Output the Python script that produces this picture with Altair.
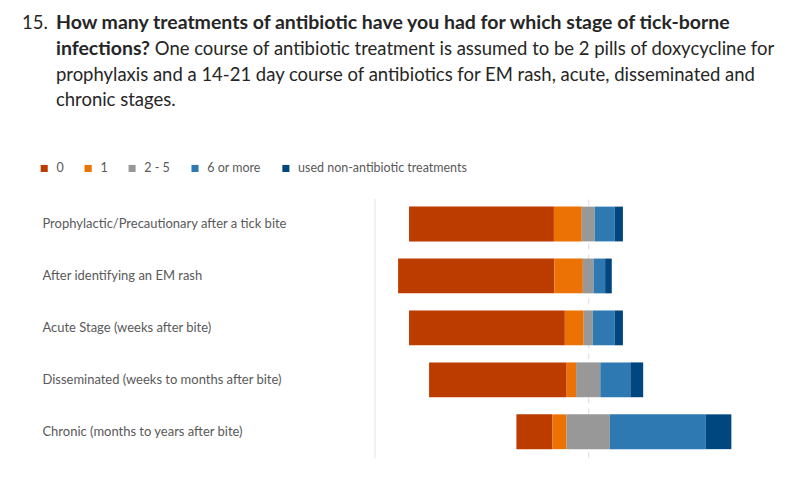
import altair as alt
import pandas as pd

stages = [
    "Prophylactic/Precautionary after a tick bite",
    "After identifying an EM rash",
    "Acute Stage (weeks after bite)",
    "Disseminated (weeks to months after bite)",
    "Chronic (months to years after bite)",
]
categories = ["0", "1", "2 - 5", "6 or more", "used non-antibiotic treatments"]
colors = ["#BC3C00", "#EC7206", "#989898", "#2E79B2", "#00467F"]

p0 = [67.6, 72.9, 72.7, 64.2, 16.7]
p1 = [13.0, 13.3, 8.8, 4.4, 6.7]
p25 = [6.0, 5.0, 4.2, 11.3, 20.2]
p6 = [9.3, 5.4, 10.2, 14.0, 44.8]
pnon = [3.9, 3.1, 3.9, 6.0, 11.9]

title_num = "15."
title_bold1 = "How many treatments of antibiotic have you had for which stage of tick-borne"
title_bold2 = "infections?"
title_norm2 = "One course of antibiotic treatment is assumed to be 2 pills of doxycycline for"
title_line3 = "prophylaxis and a 14-21 day course of antibiotics for EM rash, acute, disseminated and"
title_line4 = "chronic stages."

rows = []
for i, s in enumerate(stages):
    vals = [p0[i], p1[i], p25[i], p6[i], pnon[i]]
    start = -(vals[0] + vals[1] + vals[2] / 2)
    for c, v in zip(categories, vals):
        rows.append({"stage": s, "cat": c, "start": start, "end": start + v})
        start += v
df = pd.DataFrame(rows)

FONT = "Lato"
PX_LEFT = 375
PX_TOP = 196

bars = alt.Chart(df).mark_bar().encode(
    y=alt.Y("stage:N", sort=stages, title=None,
            scale=alt.Scale(paddingInner=0.33, paddingOuter=0.165),
            axis=alt.Axis(labelAlign="left", labelPadding=PX_LEFT - 42, ticks=False,
                          labelFont=FONT, labelFontSize=13, labelColor="#595959",
                          domainColor="#E3E3E3", domainWidth=1, labelLimit=400)),
    x=alt.X("start:Q", scale=alt.Scale(domain=[-99.7, 86.7]),
            axis=alt.Axis(values=[0], grid=True, gridDash=[6, 5], gridColor="#DCDCDC",
                          labels=False, ticks=False, domain=False, title=None)),
    x2="end",
    color=alt.Color("cat:N",
                    scale=alt.Scale(domain=categories, range=colors),
                    legend=alt.Legend(orient="none", direction="horizontal", title=None,
                                      legendX=38 - PX_LEFT, legendY=160 - PX_TOP,
                                      symbolType="square", symbolSize=50,
                                      labelFont=FONT, labelFontSize=12.5, labelColor="#595959",
                                      columnPadding=18, labelOffset=6, labelLimit=400)),
)

def txt(s, x, y, bold=False, color="#262626", size=18.5):
    return alt.Chart(pd.DataFrame({"t": [s]})).mark_text(
        align="left", baseline="alphabetic", font=FONT, fontSize=size,
        fontWeight="bold" if bold else "normal", color=color
    ).encode(text="t:N", x=alt.value(x - PX_LEFT), y=alt.value(y - PX_TOP))

titles = [
    txt(".", 13, 60, color="#FFFFFF"),
    txt(title_num, 22, 27),
    txt(title_bold1, 56, 27, bold=True, size=19.5),
    txt(title_bold2, 56, 52.5, bold=True, size=19.5),
    txt(title_norm2, 155, 52.5),
    txt(title_line3, 56, 78.5),
    txt(title_line4, 56, 104),
]

chart = alt.layer(bars, *titles).properties(
    width=400, height=260, padding=5,
).configure_view(strokeWidth=0)

chart.save("out.html", embed_options={"renderer": "svg", "actions": False})
